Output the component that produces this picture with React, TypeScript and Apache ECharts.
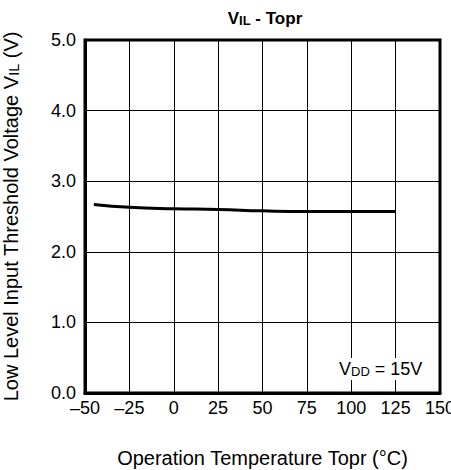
import React, { useEffect, useRef } from "react";
import * as echarts from "echarts";

const temps = [-45, -25, 0, 25, 50, 75, 100, 125];
const vilValues = [2.67, 2.63, 2.61, 2.6, 2.58, 2.57, 2.57, 2.57];
const xTicks = [-50, -25, 0, 25, 50, 75, 100, 125, 150];
const yTicks = [0, 1, 2, 3, 4, 5];

const FONT = "'Liberation Sans', Arial, Helvetica, sans-serif";

export default function App() {
  const ref = useRef<HTMLDivElement>(null);
  useEffect(() => {
    if (!ref.current) return;
    const chart = echarts.init(ref.current, null, { renderer: "svg" });
    chart.setOption({
      animation: false,
      backgroundColor: "#fff",
      textStyle: { fontFamily: FONT, color: "#000" },
      title: {
        text: "V{s|IL} - Topr",
        left: 260,
        textAlign: "center",
        top: 5,
        textStyle: {
          fontFamily: FONT,
          fontSize: 17,
          fontWeight: "bold",
          color: "#000",
          rich: {
            s: { fontFamily: FONT, fontSize: 13, fontWeight: "bold", color: "#000", verticalAlign: "bottom" },
          },
        },
      },
      grid: {
        left: 85,
        top: 40,
        width: 355,
        height: 353,
        containLabel: false,
        outerBoundsMode: "none",
        show: true,
        borderColor: "#000",
        borderWidth: 3,
        backgroundColor: "transparent",
      },
      xAxis: {
        type: "value",
        min: xTicks[0],
        max: xTicks[xTicks.length - 1],
        interval: 25,
        name: "Operation Temperature Topr (°C)",
        nameLocation: "middle",
        nameGap: 55,
        nameTextStyle: { fontFamily: FONT, fontSize: 20, color: "#000" },
        axisLine: { show: true, onZero: false, lineStyle: { color: "#000", width: 3 } },
        axisTick: { show: false },
        axisLabel: {
          fontFamily: FONT,
          fontSize: 18,
          color: "#000",
          margin: 6,
          showMaxLabel: true,
          showMinLabel: true,
          hideOverlap: false,
          formatter: (v: number) => (v < 0 ? "\u2013" + Math.abs(v) : String(v)),
        },
        splitLine: { show: true, lineStyle: { color: "#000", width: 1 } },
      },
      yAxis: {
        type: "value",
        min: yTicks[0],
        max: yTicks[yTicks.length - 1],
        interval: 1,
        name: "Low Level Input Threshold Voltage V{s|IL} (V)",
        nameLocation: "middle",
        nameGap: 64,
        nameTextStyle: {
          fontFamily: FONT,
          fontSize: 20,
          color: "#000",
          rich: { s: { fontFamily: FONT, fontSize: 14.5, color: "#000", verticalAlign: "bottom" } },
        },
        axisLine: { show: true, onZero: false, lineStyle: { color: "#000", width: 3 } },
        axisTick: { show: false },
        axisLabel: {
          fontFamily: FONT,
          fontSize: 18,
          color: "#000",
          margin: 9,
          formatter: (v: number) => v.toFixed(1),
        },
        splitLine: { show: true, lineStyle: { color: "#000", width: 1 } },
      },
      series: [
        {
          type: "line",
          data: temps.map((t, i) => [t, vilValues[i]]),
          smooth: true,
          symbol: "none",
          lineStyle: { color: "#000", width: 3 },
        },
      ],
      graphic: [
        {
          type: "text",
          left: 337,
          top: 358,
          z: 100,
          style: {
            text: "V{s|DD} = 15V",
            fontFamily: FONT,
            fontSize: 18,
            fill: "#000",
            backgroundColor: "#fff",
            padding: [2, 2],
            rich: { s: { fontFamily: FONT, fontSize: 13, fill: "#000", verticalAlign: "bottom" } },
          },
        },
      ],
    });
    return () => chart.dispose();
  }, []);
  return (
    <div
      ref={ref}
      style={{ position: "fixed", left: 0, top: 0, width: 451, height: 470 }}
    />
  );
}
